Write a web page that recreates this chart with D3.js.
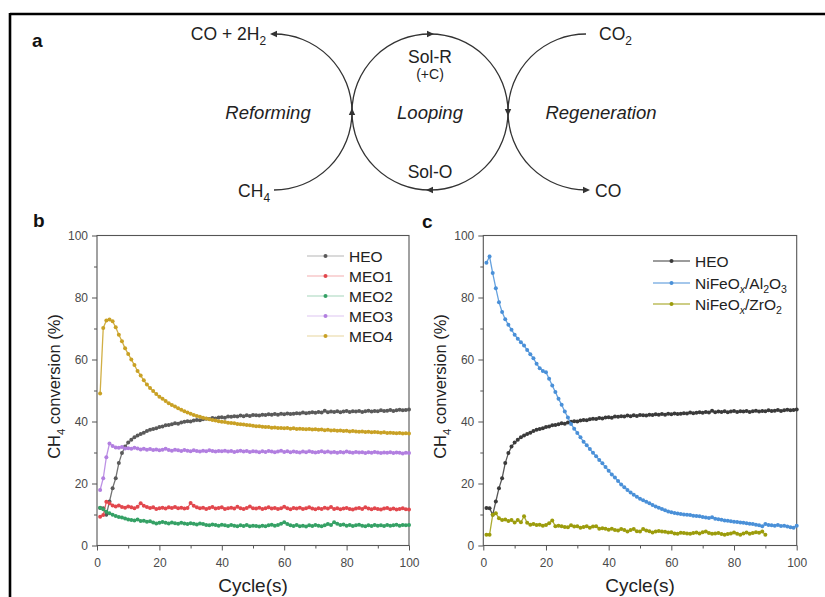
<!DOCTYPE html>
<html><head><meta charset="utf-8">
<script src="https://cdn.jsdelivr.net/npm/d3@7/dist/d3.min.js"></script>
<style>
html,body{margin:0;padding:0;background:#fff;}
svg{display:block;font-family:"Liberation Sans",Arial,Helvetica,sans-serif;}
</style></head><body>
<svg id="fig" width="825" height="597"></svg>
<script>
// ---- data -------------------------------------------------------------
const cycles = d3.range(1, 101);
const cyclesZr = d3.range(1, 91);
const yTicks = [0, 20, 40, 60, 80, 100];
const yMinor = [10, 30, 50, 70, 90];
const xTicks = [0, 20, 40, 60, 80, 100];
const xMinor = [10, 30, 50, 70, 90];

const heo = [12.1, 12.0, 9.9, 14.2, 18.5, 21.7, 26.6, 29.8, 31.9, 33.2,
  34.1, 34.9, 35.5, 36.0, 36.4, 36.9, 37.3, 37.6, 37.8, 38.2,
  38.4, 38.8, 38.9, 39.1, 39.4, 39.3, 39.7, 39.9, 40.1, 40.0,
  40.3, 40.5, 40.4, 40.7, 40.9, 40.8, 41.1, 41.0, 41.3, 41.4,
  41.2, 41.6, 41.5, 41.7, 41.6, 41.9, 41.7, 42.0, 41.8, 42.1,
  42.0, 41.9, 42.2, 42.1, 42.3, 42.2, 42.4, 42.2, 42.5, 42.3,
  42.6, 42.4, 42.5, 42.7, 42.6, 42.9, 42.7, 42.8, 43.0, 42.8,
  43.1, 42.9, 43.5, 43.0, 43.2, 43.1, 43.3, 43.0, 43.2, 43.4,
  43.1, 43.3, 43.2, 43.4, 43.1, 43.3, 43.5, 43.2, 43.4, 43.3,
  43.6, 43.4, 43.5, 43.7, 43.4, 43.6, 43.8, 43.6, 43.7, 43.9];

const meo1 = [9.3, 9.8, 14.1, 13.6, 12.9, 12.6, 12.9, 12.4, 12.2, 12.6,
  12.3, 12.0, 12.5, 13.6, 12.8, 12.4, 12.1, 12.3, 11.8, 12.0,
  12.2, 11.9, 12.3, 12.1, 12.4, 12.0, 12.2, 11.9, 12.1, 13.7,
  12.8, 12.3, 12.0, 12.2, 11.8, 12.1, 12.4, 11.9, 12.1, 12.3,
  11.8, 12.0, 12.2, 11.9, 12.5, 12.0, 11.8, 12.1, 12.6, 12.0,
  11.9, 12.2, 11.8, 12.0, 12.3, 11.9, 12.1, 11.8, 12.0, 12.5,
  12.0, 11.7, 12.1, 11.9, 12.2, 11.8, 12.0, 12.3, 11.9, 11.7,
  12.0, 11.8, 12.2, 11.9, 12.4, 11.8, 12.0, 11.7, 11.9, 12.1,
  11.8, 11.6, 11.9, 12.1, 11.8, 12.3, 11.9, 11.7, 12.0, 11.8,
  11.6, 11.9, 12.1, 11.7, 11.9, 11.6, 11.8, 12.0, 11.7, 11.6];

const meo2 = [12.2, 11.7, 10.9, 10.4, 9.9, 9.5, 9.2, 9.0, 8.7, 8.4,
  8.2, 8.1, 8.4, 7.9, 8.0, 7.7, 7.8, 7.4, 7.1, 7.3,
  7.6, 7.3, 7.1, 7.4, 7.2, 7.0, 7.3, 7.1, 6.9, 7.2,
  7.0, 6.8, 7.1, 6.9, 6.6, 6.5, 6.8, 6.6, 6.4, 6.7,
  6.5, 6.3, 6.6, 6.4, 6.2, 6.5, 6.3, 6.6, 6.2, 6.4,
  6.3, 6.1, 6.4, 6.2, 6.5, 6.7, 6.4, 6.6, 7.0, 7.5,
  6.9, 6.5, 6.3, 6.6, 6.2, 6.4, 6.1, 6.5, 6.3, 6.6,
  6.4, 6.2, 6.5, 6.9, 6.6, 7.5, 7.0, 6.6, 6.8, 6.4,
  6.6, 6.3, 6.5, 6.7, 6.4, 6.2, 6.5, 6.3, 6.6, 6.4,
  6.5, 6.3, 6.6, 6.4, 6.5, 6.7, 6.4, 6.6, 6.5, 6.6];

const meo3 = [17.9, 21.7, 28.5, 32.9, 32.1, 31.6, 31.5, 31.8, 31.3, 31.4,
  31.2, 31.5, 31.3, 31.0, 31.2, 30.9, 31.1, 30.8, 31.0, 30.7,
  30.9, 31.2, 30.8, 30.6, 30.9, 30.7, 30.5, 30.8, 30.6, 30.4,
  30.7, 30.5, 30.3, 30.6, 30.4, 30.7, 30.5, 30.3, 30.5, 30.4,
  30.6, 30.3, 30.5, 30.2, 30.4, 30.6, 30.3, 30.5, 30.2, 30.4,
  30.3, 30.1, 30.4, 30.2, 30.5, 30.3, 30.1, 30.3, 30.6, 30.2,
  30.4, 30.1, 30.3, 30.2, 30.0, 30.3, 30.1, 30.4, 30.2, 30.0,
  30.2, 30.4, 30.1, 30.3, 30.0, 30.2, 29.9, 30.2, 30.0, 30.3,
  30.1, 29.9, 30.2, 30.0, 30.1, 29.8, 30.1, 29.9, 30.2, 30.0,
  29.8, 30.0, 29.9, 30.1, 29.8, 30.0, 29.9, 29.7, 29.9, 29.8];

const meo4 = [49.0, 70.2, 72.6, 72.9, 72.3, 70.4, 68.0, 65.9, 63.6, 61.8,
  60.0, 58.2, 56.3, 54.8, 53.3, 51.9, 50.8, 49.8, 48.9, 48.0,
  47.3, 46.6, 45.9, 45.3, 44.8, 44.3, 43.8, 43.3, 42.9, 42.5,
  42.1, 41.8, 41.5, 41.2, 41.0, 40.7, 40.5, 40.3, 40.1, 39.9,
  39.8, 39.6, 39.5, 39.4, 39.2, 39.1, 39.0, 38.9, 38.8, 38.6,
  38.5, 38.5, 38.3, 38.2, 38.2, 38.0, 38.1, 37.9, 37.9, 37.8,
  37.9, 37.7, 37.8, 37.6, 37.7, 37.6, 37.5, 37.6, 37.4, 37.5,
  37.3, 37.4, 37.2, 37.3, 37.1, 37.2, 37.0, 37.1, 36.9, 37.0,
  36.8, 36.9, 36.8, 36.7, 36.8, 36.6, 36.7, 36.5, 36.6, 36.5,
  36.4, 36.5, 36.3, 36.4, 36.3, 36.2, 36.3, 36.1, 36.2, 36.1];

const nifeAl = [91.2, 93.2, 87.9, 83.0, 78.5, 75.3, 73.0, 71.2, 69.6, 68.0,
  66.7, 65.6, 64.5, 63.1, 61.7, 60.4, 58.6, 57.2, 56.3, 55.9,
  53.8, 51.6, 49.5, 47.3, 45.4, 43.2, 41.3, 39.2, 37.7, 36.3,
  34.9, 33.5, 32.3, 31.1, 29.9, 28.8, 27.6, 26.5, 25.3, 24.1,
  22.9, 21.9, 20.8, 19.7, 18.8, 17.9, 17.1, 16.4, 15.7, 15.1,
  14.6, 14.1, 13.6, 13.1, 12.6, 12.2, 11.8, 11.4, 11.0, 10.7,
  10.5, 10.3, 10.2, 10.0, 9.9, 9.8, 9.6, 9.5, 9.4, 9.2,
  9.0, 8.9, 9.1, 8.6, 8.5, 8.3, 8.1, 8.0, 7.8, 7.7,
  7.6, 7.4, 7.3, 7.2, 7.0, 6.9, 6.7, 6.5, 6.2, 6.9,
  6.6, 6.5, 6.4, 6.6, 6.3, 6.4, 6.1, 5.9, 5.7, 6.4];

const nifeZr = [3.5, 3.5, 9.9, 10.4, 8.8, 8.2, 8.4, 7.9, 8.2, 7.4,
  8.2, 7.5, 9.4, 7.3, 6.7, 6.9, 6.6, 6.7, 6.4, 6.6,
  7.2, 8.1, 6.2, 6.4, 6.2, 6.0, 5.9, 6.5, 6.1, 6.2,
  5.7, 6.0, 6.2, 5.7, 6.1, 6.2, 5.4, 5.6, 5.4, 5.1,
  5.4, 5.0, 4.8, 5.3, 5.0, 4.5, 5.0, 5.3, 4.6, 4.5,
  5.3, 4.8, 4.6, 4.2, 4.5, 4.7, 4.5, 4.4, 4.2, 4.3,
  3.9, 3.8, 4.1, 4.0, 3.9, 3.8, 4.0, 4.2, 3.9, 4.3,
  4.5, 4.0, 3.8, 3.9, 4.0, 3.7, 3.5, 3.7, 3.9, 4.2,
  3.8, 3.5, 3.9, 4.2, 3.8, 4.0, 4.3, 4.1, 4.5, 3.5];

// ---- figure ---------------------------------------------------------------
const svg = d3.select("#fig");
const ink = "#222";

// outer frame (left and top rules)
svg.append("line").attr("x1", 10).attr("y1", 14).attr("x2", 825).attr("y2", 14)
  .attr("stroke", "#000").attr("stroke-width", 2.6);
svg.append("line").attr("x1", 10).attr("y1", 13).attr("x2", 10).attr("y2", 597)
  .attr("stroke", "#000").attr("stroke-width", 2.6);

// writes text made of plain and subscript pieces
function richText(g, x, y, parts, size, anchor, extra) {
  const t = g.append("text").attr("x", x).attr("y", y)
    .attr("font-size", size).attr("fill", ink).attr("text-anchor", anchor || "start");
  if (extra) extra(t);
  parts.forEach(p => {
    const s = t.append("tspan").text(p.t);
    if (p.sub) {
      s.attr("font-size", size * 0.68).attr("dy", size * 0.28);
      if (p.it) s.attr("font-style", "italic");
    } else if (p.after) {
      s.attr("dy", -size * 0.28);
    }
  });
  return t;
}
function plain(t) { return [{ t }]; }

// panel labels
[["a", 32, 47], ["b", 33, 227], ["c", 422, 228]].forEach(([l, x, y]) =>
  svg.append("text").attr("x", x).attr("y", y).attr("font-size", 19)
    .attr("font-weight", "bold").attr("fill", "#111").text(l));

// ---- panel a : looping scheme ---------------------------------------------
const ga = svg.append("g");
const R = 78, cy = 112, cxL = 274, cxM = 430, cxR = 586;
const stroke = "#333";
function arrowHead(x, y, angleDeg) {
  ga.append("path").attr("d", "M0,0 L-7,-3.2 L-7,3.2 Z")
    .attr("transform", `translate(${x},${y}) rotate(${angleDeg})`)
    .attr("fill", stroke);
}
// reforming arc (right half of a circle), CH4 in, syngas out
ga.append("path").attr("d", `M${cxL},${cy + R} A${R},${R} 0 0 0 ${cxL},${cy - R}`)
  .attr("fill", "none").attr("stroke", stroke).attr("stroke-width", 1.3);
arrowHead(cxL - 4, cy - R, 180);
// looping circle, clockwise
ga.append("circle").attr("cx", cxM).attr("cy", cy).attr("r", R)
  .attr("fill", "none").attr("stroke", stroke).attr("stroke-width", 1.3);
arrowHead(cxM + 4, cy - R, 0);
arrowHead(cxM + R, cy + 4, 90);
arrowHead(cxM - 4, cy + R, 180);
arrowHead(cxM - R, cy - 4, -90);
// regeneration arc (left half of a circle), CO2 in, CO out
ga.append("path").attr("d", `M${cxR},${cy - R} A${R},${R} 0 0 0 ${cxR},${cy + R}`)
  .attr("fill", "none").attr("stroke", stroke).attr("stroke-width", 1.3);
arrowHead(cxR + 4, cy + R, 0);

const fa = 17.5;
richText(ga, 266, 40, [{ t: "CO + 2H" }, { t: "2", sub: true }], fa, "end");
richText(ga, 599, 40, [{ t: "CO" }, { t: "2", sub: true }], fa, "start");
richText(ga, 270, 197, [{ t: "CH" }, { t: "4", sub: true }], fa, "end");
richText(ga, 595, 197, plain("CO"), fa, "start");
richText(ga, cxM, 63, plain("Sol-R"), fa, "middle");
richText(ga, cxM, 79, plain("(+C)"), 14, "middle");
richText(ga, cxM, 178, plain("Sol-O"), fa, "middle");
[["Reforming", 268], ["Looping", 430], ["Regeneration", 601]].forEach(([s, x]) =>
  richText(ga, x, 119, plain(s), 18.5, "middle", t => t.attr("font-style", "italic")));

// ---- panels b and c : conversion vs cycle ------------------------------------
function drawPanel(cfg) {
  const g = svg.append("g");
  const x = d3.scaleLinear().domain([0, 100]).range([cfg.left, cfg.right]);
  const y = d3.scaleLinear().domain([0, 100]).range([cfg.bottom, cfg.top]);

  const styleAxis = sel => {
    sel.select(".domain").remove();
    sel.selectAll(".tick line").attr("stroke", "#555").attr("stroke-width", 1);
    sel.selectAll(".tick text").attr("font-size", 12).attr("fill", "#4a4a4a")
      .attr("font-family", "Liberation Sans, Arial, sans-serif");
  };
  g.append("g").attr("transform", `translate(${cfg.left},0)`)
    .call(d3.axisLeft(y).tickValues(yTicks).tickSize(5).tickPadding(4)).call(styleAxis);
  g.append("g").attr("transform", `translate(${cfg.left},0)`)
    .call(d3.axisLeft(y).tickValues(yMinor).tickSize(3).tickFormat("")).call(styleAxis);
  g.append("g").attr("transform", `translate(0,${cfg.bottom})`)
    .call(d3.axisBottom(x).tickValues(xTicks).tickSize(5).tickPadding(8)).call(styleAxis);
  g.append("g").attr("transform", `translate(0,${cfg.bottom})`)
    .call(d3.axisBottom(x).tickValues(xMinor).tickSize(3).tickFormat("")).call(styleAxis);

  g.append("rect").attr("x", cfg.left).attr("y", cfg.top)
    .attr("width", cfg.right - cfg.left).attr("height", cfg.bottom - cfg.top)
    .attr("fill", "none").attr("stroke", "#555").attr("stroke-width", 1.1);

  const plot = g.append("g");
  cfg.series.forEach(s => {
    const pts = s.values.map((v, i) => [s.x[i], v]);
    const line = d3.line().x(d => x(d[0])).y(d => y(d[1]));
    plot.append("path").datum(pts).attr("d", line)
      .attr("fill", "none").attr("stroke", s.color).attr("stroke-width", 1.3)
      .attr("stroke-opacity", 0.85);
    plot.append("g").selectAll("circle").data(pts).join("circle")
      .attr("cx", d => x(d[0])).attr("cy", d => y(d[1])).attr("r", 2)
      .attr("fill", s.color);
  });

  // legend
  const lg = g.append("g");
  cfg.series.forEach((s, i) => {
    const ly = cfg.legY + i * cfg.legGap[i];
    lg.append("line").attr("x1", cfg.legX).attr("x2", cfg.legX + 37)
      .attr("y1", ly).attr("y2", ly).attr("stroke", s.color)
      .attr("stroke-width", 1.2).attr("stroke-opacity", cfg.legOpacity);
    lg.append("circle").attr("cx", cfg.legX + 18.5).attr("cy", ly).attr("r", 2)
      .attr("fill", s.color);
    richText(lg, cfg.legX + 42, ly + 5.5, s.label, 15.5, "start");
  });

  // axis titles
  richText(g, cfg.yTitleX, (cfg.top + cfg.bottom) / 2 - 4,
    [{ t: "CH" }, { t: "4", sub: true }, { t: " conversion (%)", after: true }],
    16.5, "middle", t => t.attr("transform",
      `rotate(-90,${cfg.yTitleX},${(cfg.top + cfg.bottom) / 2 - 4})`));
  richText(g, (cfg.left + cfg.right) / 2, 592, plain("Cycle(s)"), 19, "middle");
}

drawPanel({
  left: 97, right: 409, top: 235.5, bottom: 545.5,
  yTitleX: 60, legX: 307, legY: 256, legGap: [20, 20, 20, 20, 20], legOpacity: 0.45,
  series: [
    { label: plain("HEO"), values: heo, x: cycles, color: "#5a5a5a" },
    { label: plain("MEO1"), values: meo1, x: cycles, color: "#e2474d" },
    { label: plain("MEO2"), values: meo2, x: cycles, color: "#35a165" },
    { label: plain("MEO3"), values: meo3, x: cycles, color: "#b27fe0" },
    { label: plain("MEO4"), values: meo4, x: cycles, color: "#c9a125" }
  ]
});

drawPanel({
  left: 483.3, right: 796.7, top: 235.5, bottom: 545.5,
  yTitleX: 446, legX: 653, legY: 261, legGap: [0, 22, 21.5], legOpacity: 1,
  series: [
    { label: plain("HEO"), values: heo, x: cycles, color: "#3a3a3a" },
    { label: [{ t: "NiFeO" }, { t: "x", sub: true, it: true }, { t: "/Al", after: true },
      { t: "2", sub: true }, { t: "O", after: true }, { t: "3", sub: true }],
      values: nifeAl, x: cycles, color: "#4a90d8" },
    { label: [{ t: "NiFeO" }, { t: "x", sub: true, it: true }, { t: "/ZrO", after: true },
      { t: "2", sub: true }],
      values: nifeZr, x: cyclesZr, color: "#9c9c0c" }
  ]
});
</script>
</body></html>
